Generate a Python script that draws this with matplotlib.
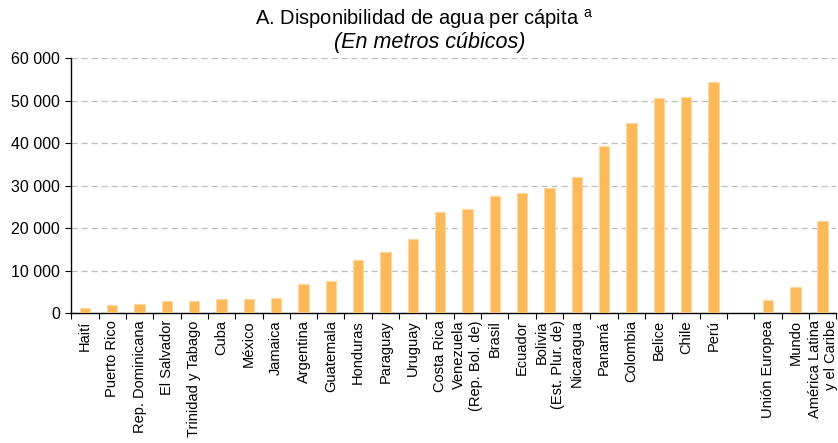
import numpy as np
import matplotlib.pyplot as plt
from matplotlib.ticker import FuncFormatter

plt.rcParams['font.family'] = ['Liberation Sans', 'DejaVu Sans']

# Countries (sorted) and the aggregate groups, in cubic metres per person
countries = ['Haití', 'Puerto Rico', 'Rep. Dominicana', 'El Salvador', 'Trinidad y Tabago',
             'Cuba', 'México', 'Jamaica', 'Argentina', 'Guatemala', 'Honduras', 'Paraguay',
             'Uruguay', 'Costa Rica', 'Venezuela\n(Rep. Bol. de)', 'Brasil', 'Ecuador',
             'Bolivia\n(Est. Plur. de)', 'Nicaragua', 'Panamá', 'Colombia', 'Belice',
             'Chile', 'Perú']
country_vals = [1300, 1950, 2100, 2900, 2900, 3450, 3450, 3600, 6800, 7600, 12400, 14300,
                17500, 23800, 24550, 27450, 28300, 29400, 32100, 39400, 44800, 50500,
                50900, 54400]

groups = ['Unión Europea', 'Mundo', 'América Latina\ny el Caribe']
group_vals = [3050, 6200, 21700]

labels = countries + [''] + groups
values = country_vals + [np.nan] + group_vals
x = np.arange(len(labels))

fig = plt.figure(figsize=(8.38, 4.43), dpi=100)
ax = fig.add_axes([0.085, 0.293, 0.913, 0.576])

ax.bar(x, values, width=0.38, color='#FBB95A', edgecolor='#FDD9A0', linewidth=0.8, zorder=3)

ax.set_xlim(-0.5, len(labels) - 0.5)
ax.set_ylim(0, 60000)
ax.set_yticks(np.arange(0, 60001, 10000))
ax.yaxis.set_major_formatter(FuncFormatter(lambda v, p: f'{int(v):,}'.replace(',', ' ')))
ax.grid(axis='y', linestyle=(0, (5, 3)), color='#BFBFBF', linewidth=0.9, zorder=0)

ax.set_xticks(x)
ax.set_xticklabels(labels, rotation=90, ha='center', va='top', multialignment='right', fontsize=10.5)
ax.set_xticks(np.arange(-0.5, len(labels)), minor=True)
ax.tick_params(axis='x', which='major', length=0, pad=5)
ax.tick_params(axis='x', which='minor', length=4, width=0.8, direction='out')
ax.tick_params(axis='y', length=4, width=0.8, direction='out', labelsize=11.5, pad=4)

for s in ['top', 'right']:
    ax.spines[s].set_visible(False)
for s in ['left', 'bottom']:
    ax.spines[s].set_linewidth(1.0)
    ax.spines[s].set_color('black')

fig.text(0.506, 0.958, 'A. Disponibilidad de agua per cápita $^{\\mathregular{a}}$', ha='center', va='center', fontsize=14.5)
fig.text(0.513, 0.903, '(En metros cúbicos)', ha='center', va='center', fontsize=15.5, style='italic')

fig.savefig('out.png', dpi=100)
